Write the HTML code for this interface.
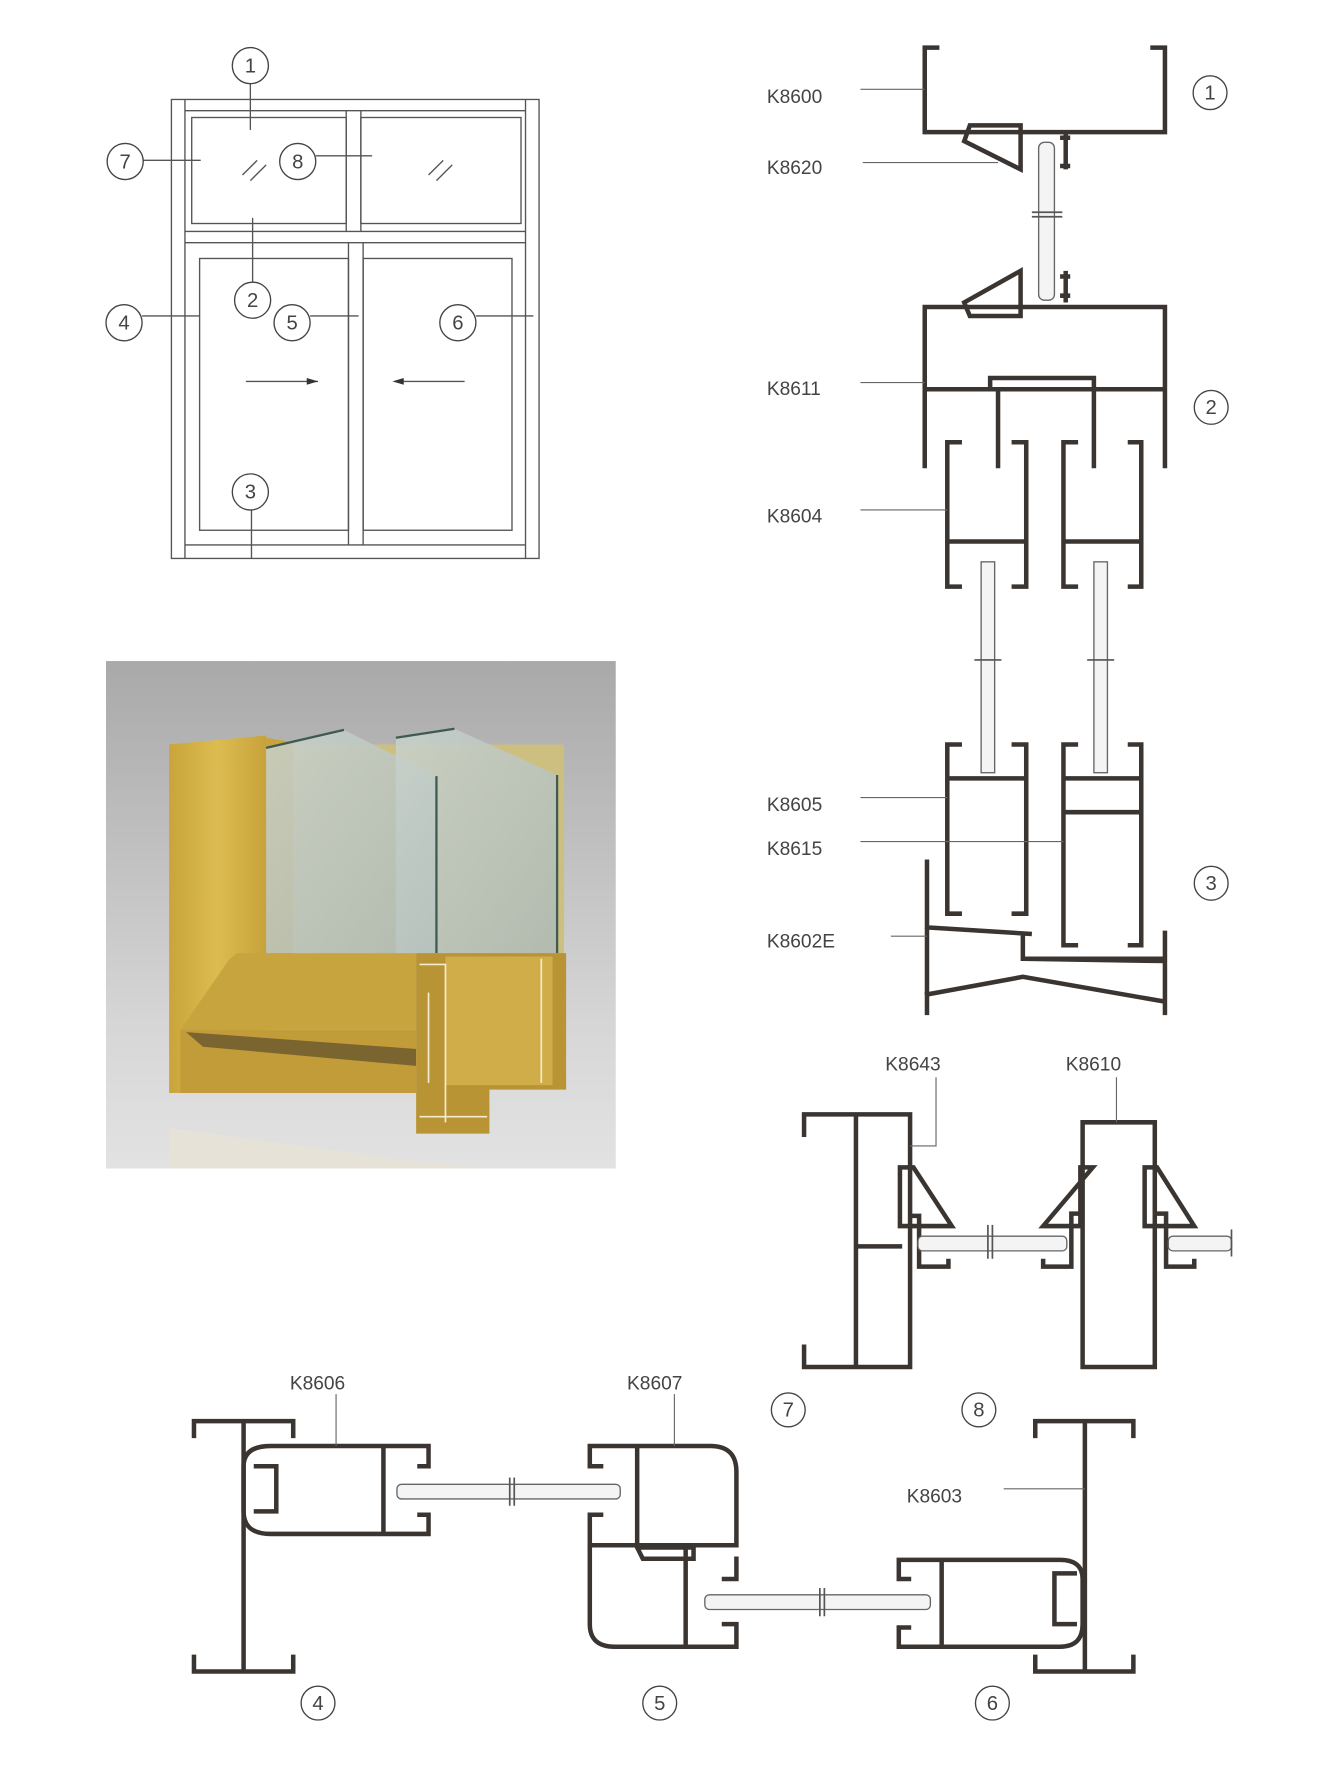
<!DOCTYPE html>
<html><head><meta charset="utf-8"><style>html,body{margin:0;padding:0;background:#fff}svg{display:block}text{font-family:"Liberation Sans",sans-serif;fill:#444}</style></head><body>
<svg width="1342" height="1780" viewBox="0 0 1190 1578" xmlns="http://www.w3.org/2000/svg">
<defs>
<linearGradient id="bg" x1="0" y1="0" x2="0" y2="1"><stop offset="0" stop-color="#a9a9a9"/><stop offset="0.75" stop-color="#d8d8d8"/><stop offset="1" stop-color="#e2e2e2"/></linearGradient>
<linearGradient id="gold" x1="0" y1="0" x2="1" y2="0"><stop offset="0" stop-color="#c9a43a"/><stop offset="0.5" stop-color="#dcbc52"/><stop offset="1" stop-color="#c8a23a"/></linearGradient>
<linearGradient id="glass" x1="0" y1="0" x2="1" y2="1"><stop offset="0" stop-color="#c8d2cc"/><stop offset="1" stop-color="#aebab8"/></linearGradient>
</defs>
<!-- elevation -->
<g fill="none" stroke="#555" stroke-width="1.2">
<rect x="152" y="88" width="326" height="407"/>
<line x1="164" y1="88" x2="164" y2="495"/><line x1="466" y1="88" x2="466" y2="495"/>
<line x1="164" y1="98" x2="466" y2="98"/><line x1="164" y1="483" x2="466" y2="483"/>
<rect x="170" y="104" width="137" height="94"/><rect x="320" y="104" width="142" height="94"/>
<line x1="164" y1="205" x2="466" y2="205"/><line x1="164" y1="215" x2="466" y2="215"/>
<line x1="307" y1="98" x2="307" y2="205"/><line x1="320" y1="98" x2="320" y2="205"/>
<rect x="177" y="229" width="132" height="241"/><rect x="322" y="229" width="132" height="241"/>
<line x1="309" y1="215" x2="309" y2="483"/><line x1="322" y1="215" x2="322" y2="483"/>
<line x1="215" y1="155" x2="228" y2="142"/><line x1="222" y1="160" x2="236" y2="146"/>
<line x1="380" y1="155" x2="393" y2="142"/><line x1="387" y1="160" x2="401" y2="146"/>
<line x1="222" y1="74" x2="222" y2="115"/><line x1="127" y1="142" x2="178" y2="142"/><line x1="280" y1="138" x2="330" y2="138"/>
<line x1="224" y1="193" x2="224" y2="250"/><line x1="126" y1="280" x2="177" y2="280"/><line x1="275" y1="280" x2="318" y2="280"/><line x1="422" y1="280" x2="473" y2="280"/>
<line x1="223" y1="452" x2="223" y2="495"/>
<line x1="218" y1="338" x2="282" y2="338"/><line x1="350" y1="338" x2="412" y2="338"/>
</g>
<polygon points="282,338 272,335 272,341" fill="#333"/><polygon points="348,338 358,335 358,341" fill="#333"/>
<g fill="#fff" stroke="#444" stroke-width="1.2">
<circle cx="222" cy="58" r="16"/><circle cx="111" cy="143" r="16"/><circle cx="264" cy="143" r="16"/><circle cx="224" cy="266" r="16"/><circle cx="110" cy="286" r="16"/><circle cx="259" cy="286" r="16"/><circle cx="406" cy="286" r="16"/><circle cx="222" cy="436" r="16"/>
<circle cx="1073" cy="82" r="15"/><circle cx="1074" cy="361" r="15"/><circle cx="1074" cy="783" r="15"/><circle cx="699" cy="1250" r="15"/><circle cx="868" cy="1250" r="15"/><circle cx="282" cy="1510" r="15"/><circle cx="585" cy="1510" r="15"/><circle cx="880" cy="1510" r="15"/>
</g>
<g font-size="18" text-anchor="middle">
<text x="222" y="64">1</text><text x="111" y="149">7</text><text x="264" y="149">8</text><text x="224" y="272">2</text><text x="110" y="292">4</text><text x="259" y="292">5</text><text x="406" y="292">6</text><text x="222" y="442">3</text>
<text x="1073" y="88">1</text><text x="1074" y="367">2</text><text x="1074" y="789">3</text><text x="699" y="1256">7</text><text x="868" y="1256">8</text><text x="282" y="1516">4</text><text x="585" y="1516">5</text><text x="880" y="1516">6</text>
</g>
<!-- photo -->
<rect x="94" y="586" width="452" height="450" fill="url(#bg)"/>
<polygon points="150,1000 370,1030 440,1036 150,1036" fill="#e6e2d8"/>
<polygon points="150,660 236,652 236,969 150,969" fill="url(#gold)"/>
<polygon points="236,654 260,658 260,850 236,850" fill="#c9a43c"/>
<polygon points="260,660 500,660 500,845 260,845" fill="#cdbf80"/>
<polygon points="236,663 305,647 387,688 387,845 236,845" fill="url(#glass)" opacity=".85"/>
<polygon points="351,654 403,646 494,687 494,845 351,845" fill="url(#glass)" opacity=".85"/>
<g stroke="#3f5a50" stroke-width="2"><line x1="387" y1="688" x2="387" y2="845"/><line x1="494" y1="687" x2="494" y2="845"/><line x1="236" y1="663" x2="305" y2="647"/><line x1="351" y1="654" x2="403" y2="646"/></g>
<polygon points="203,851 210,845 369,845 369,913 160,913" fill="#c8a43e"/>
<polygon points="160,913 369,913 369,969 160,969" fill="#c19c38"/>
<polygon points="165,915 369,930 369,945 180,928" fill="#7a6430"/>
<polygon points="369,845 502,845 502,966 434,966 434,1005 369,1005" fill="#b89434"/>
<polygon points="395,848 490,848 490,962 395,962" fill="#d0ad48"/>
<g fill="none" stroke="#f4ecd0" stroke-width="1.5"><path d="M372,855 H395 V995 M380,880 V960 M480,850 V960 M372,990 H432"/></g>
<!-- right top profiles -->
<g fill="none" stroke="#3b3532" stroke-width="4" stroke-linejoin="miter">
<path d="M833,42 H820 V117 H1033 V42 H1020"/>
<path d="M860,111 L905,111 V150 L855,125 Z"/>
<path d="M945,117 V150 M940,122 H949 M940,147 H949"/>
<path d="M945,268 V240 M940,245 H949 M940,262 H949"/>
<path d="M860,280 L905,280 V240 L855,268 Z"/>
<path d="M820,415 V272 H1033 V415"/>
<path d="M820,345 H1033 M878,345 V335 H970 V345"/>
<path d="M885,345 V415 M970,345 V415"/>
<path d="M853,392 H840 V520 H853 M897,392 H910 V520 H897 M840,480 H910"/>
<path d="M956,392 H943 V520 H956 M1000,392 H1012 V520 H1000 M943,480 H1012"/>
<path d="M853,660 H840 V810 H853 M897,660 H910 V810 H897 M840,690 H910"/>
<path d="M956,660 H943 V838 H956 M1000,660 H1012 V838 H1000 M943,690 H1012 M943,720 H1012"/>
<path d="M822,762 V900 M1033,825 V900 M820,822 L915,828 M907,828 V850 H1033 M820,882 L907,866 L1033,888 M907,850 L1033,852"/>
<!-- 7/8 -->
<path d="M713,1008 V988 H807 V1212 H713 V1192 M759,988 V1212 M759,1105 H800 M807,1078 H815 V1123 H841 V1116"/>
<path d="M798,1035 H810 L844,1087 H798 Z"/>
<path d="M960,1212 V995 H1024 V1212 Z M960,1076 H950 V1123 H925 V1116 M1024,1076 H1034 V1123 H1059 V1116"/>
<path d="M969,1035 H958 V1087 H925 Z M1015,1035 H1026 L1059,1087 H1015 Z"/>
<!-- bottom -->
<path d="M172,1275 V1260 H260 V1275 M172,1467 V1482 H260 V1467 M216,1260 V1482"/>
<path d="M240,1282 H380 V1300 H370 M370,1343 H380 V1360 H240 Q216,1360 216,1340 V1300 Q216,1282 240,1282 M340,1282 V1360"/>
<path d="M225,1300 H245 V1340 H225"/>
<path d="M535,1300 H523 V1282 H630 Q653,1282 653,1305 V1370 H523 V1343 H535 M565,1282 V1370"/>
<path d="M523,1370 V1440 Q523,1460 545,1460 H653 V1440 H640 M640,1400 H653 V1380 M608,1370 V1460 M565,1372 H615 V1382 H570 Z"/>
<path d="M1005,1275 V1260 H918 V1275 M1005,1467 V1482 H918 V1467 M962,1260 V1482"/>
<path d="M808,1400 H797 V1383 H940 Q960,1383 960,1400 V1440 Q960,1460 940,1460 H797 V1443 H808 M835,1383 V1460"/>
<path d="M955,1395 H935 V1440 H955"/>
</g>
<!-- glass -->
<g fill="#f4f4f4" stroke="#666" stroke-width="1.2">
<rect x="921" y="126" width="14" height="140" rx="5"/>
<rect x="870" y="498" width="12" height="187"/><rect x="970" y="498" width="12" height="187"/>
<rect x="814" y="1096" width="132" height="13" rx="4"/><rect x="1036" y="1096" width="56" height="13" rx="4"/>
<rect x="352" y="1316" width="198" height="13" rx="4"/><rect x="625" y="1414" width="200" height="13" rx="4"/>
</g>
<g stroke="#555" stroke-width="1.5">
<line x1="915" y1="188" x2="942" y2="188"/><line x1="915" y1="192" x2="942" y2="192"/>
<line x1="864" y1="585" x2="888" y2="585"/><line x1="964" y1="585" x2="988" y2="585"/>
<line x1="876" y1="1086" x2="876" y2="1116"/><line x1="880" y1="1086" x2="880" y2="1116"/><line x1="1092" y1="1090" x2="1092" y2="1114"/>
<line x1="452" y1="1310" x2="452" y2="1335"/><line x1="456" y1="1310" x2="456" y2="1335"/>
<line x1="727" y1="1408" x2="727" y2="1433"/><line x1="731" y1="1408" x2="731" y2="1433"/>
</g>
<!-- leaders -->
<g stroke="#666" stroke-width="1" fill="none">
<line x1="763" y1="79" x2="820" y2="79"/><line x1="765" y1="144" x2="885" y2="144"/>
<line x1="763" y1="339" x2="820" y2="339"/><line x1="763" y1="452" x2="840" y2="452"/>
<line x1="763" y1="707" x2="840" y2="707"/><line x1="763" y1="746" x2="943" y2="746"/><line x1="790" y1="830" x2="822" y2="830"/>
<polyline points="830,955 830,1016 807,1016"/><line x1="990" y1="955" x2="990" y2="995"/>
<line x1="298" y1="1236" x2="298" y2="1282"/><line x1="598" y1="1236" x2="598" y2="1282"/>
<line x1="890" y1="1320" x2="962" y2="1320"/>
</g>
<g font-size="17">
<text x="680" y="91">K8600</text><text x="680" y="154">K8620</text><text x="680" y="350">K8611</text><text x="680" y="463">K8604</text>
<text x="680" y="719">K8605</text><text x="680" y="758">K8615</text><text x="680" y="840">K8602E</text>
<text x="785" y="949">K8643</text><text x="945" y="949">K8610</text>
<text x="257" y="1232">K8606</text><text x="556" y="1232">K8607</text><text x="804" y="1332">K8603</text>
</g>
</svg>
</body></html>
